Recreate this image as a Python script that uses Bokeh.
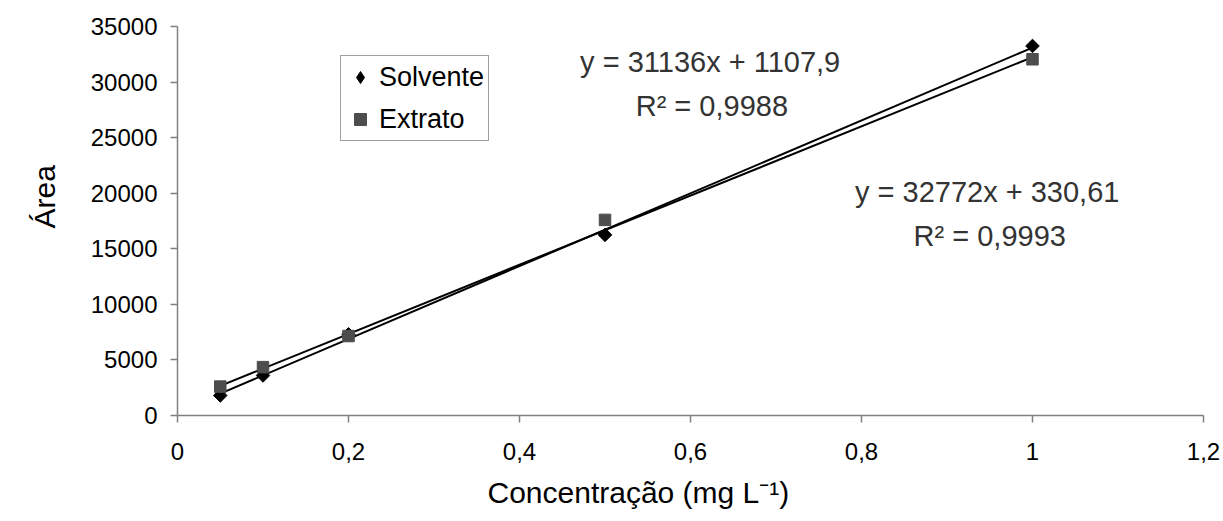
import math
from bokeh.plotting import figure
from bokeh.models import Range1d, FixedTicker, Legend, LegendItem, Label, Title
from bokeh.embed import file_html
from bokeh.resources import INLINE

# ---- data ----
conc = [0.05, 0.1, 0.2, 0.5, 1.0]
solvente = [1800, 3600, 7300, 16250, 33250]
extrato = [2600, 4350, 7150, 17600, 32050]

series_names = ["Solvente", "Extrato"]
fit_slope = [32772, 31136]
fit_intercept = [330.61, 1107.9]
fit_x = [0.05, 1.0]
eq_text_solvente = ["y = 32772x + 330,61", "R² = 0,9993"]
eq_text_extrato = ["y = 31136x + 1107,9", "R² = 0,9988"]

x_ticks = [0, 0.2, 0.4, 0.6, 0.8, 1, 1.2]
x_tick_labels = ["0", "0,2", "0,4", "0,6", "0,8", "1", "1,2"]
y_ticks = [0, 5000, 10000, 15000, 20000, 25000, 30000, 35000]
y_tick_labels = ["0", "5000", "10000", "15000", "20000", "25000", "30000", "35000"]

x_title = "Concentração (mg L⁻¹)"
y_title = "Área"

FONT = "Liberation Sans"

p = figure(width=1223, height=521, output_backend="svg", toolbar_location=None,
           x_range=Range1d(0, 1.2), y_range=Range1d(0, 35000),
           min_border_left=177, min_border_right=20, min_border_top=26, min_border_bottom=106)
p.outline_line_color = None
p.xgrid.visible = False
p.ygrid.visible = False
p.background_fill_color = "white"
p.border_fill_color = "white"

for ax, ticks, labels in ((p.xaxis[0], x_ticks, x_tick_labels), (p.yaxis[0], y_ticks, y_tick_labels)):
    ax.ticker = FixedTicker(ticks=ticks)
    ax.major_label_overrides = {t: l for t, l in zip(ticks, labels)}
    ax.axis_line_color = "#808080"
    ax.axis_line_width = 1.5
    ax.major_tick_line_color = "#808080"
    ax.major_tick_line_width = 1.5
    ax.major_tick_out = 7
    ax.major_tick_in = 0
    ax.minor_tick_line_color = None
    ax.major_label_text_font = FONT
    ax.major_label_text_font_size = "24px"
    ax.major_label_text_color = "black"
p.xaxis.major_label_standoff = 20
p.yaxis.major_label_standoff = 13

# axis titles (placed as side titles so they can be offset like the reference)
p.add_layout(Title(text=x_title, align="left", offset=310, standoff=23,
                   text_font=FONT, text_font_size="30px", text_font_style="normal",
                   text_color="black"), "below")
p.add_layout(Title(text=y_title, align="left", vertical_align="top", offset=187, standoff=50,
                   text_font=FONT, text_font_size="30px", text_font_style="normal",
                   text_color="black"), "left")

# regression lines
fit_solv_y = [fit_slope[0] * x + fit_intercept[0] for x in fit_x]
fit_extr_y = [fit_slope[1] * x + fit_intercept[1] for x in fit_x]
p.line(fit_x, fit_solv_y, line_color="black", line_width=2)
p.line(fit_x, fit_extr_y, line_color="black", line_width=2)

p.scatter(conc, solvente, marker="square", angle=math.pi / 4, size=9.6,
          fill_color="black", line_color="black")
# diamond key glyph for the legend; drawn on the same points, hidden inside the markers above
r_solv_key = p.scatter(conc, solvente, marker="diamond", size=11, fill_color="black", line_color="black")
r_extr = p.scatter(conc, extrato, marker="square", size=11.5,
                   fill_color="#4d4d4d", line_color="#4d4d4d")

legend = Legend(items=[LegendItem(label=series_names[0], renderers=[r_solv_key], index=0),
                       LegendItem(label=series_names[1], renderers=[r_extr], index=0)],
                location=(163, 274))
legend.label_text_font = FONT
legend.label_text_font_size = "27px"
legend.label_text_color = "black"
legend.glyph_width = 30
legend.glyph_height = 30
legend.label_height = 34
legend.spacing = 8
legend.padding = 4
legend.margin = 0
legend.label_standoff = 4
legend.border_line_color = "#404040"
legend.border_line_width = 1
legend.background_fill_color = "white"
legend.background_fill_alpha = 1
p.add_layout(legend)

# equation annotations
eq_color = "#333333"
for txt, (x, y) in zip(eq_text_extrato, [(0.623, 31800), (0.625, 27850)]):
    p.add_layout(Label(x=x, y=y, text=txt, text_align="center", text_baseline="alphabetic",
                       text_font=FONT, text_font_size="29px", text_color=eq_color))
for txt, (x, y) in zip(eq_text_solvente, [(0.947, 20090), (0.950, 16130)]):
    p.add_layout(Label(x=x, y=y, text=txt, text_align="center", text_baseline="alphabetic",
                       text_font=FONT, text_font_size="29px", text_color=eq_color))

open("out.html", "w").write(file_html(p, INLINE))
